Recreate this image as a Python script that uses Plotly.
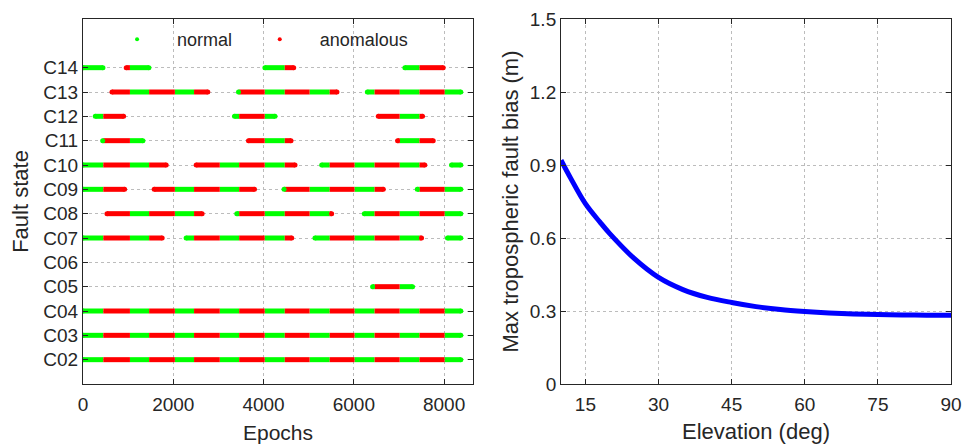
import plotly.graph_objects as go

# ---------------- data: left panel (fault state timeline) ----------------
satellites = ["C02", "C03", "C04", "C05", "C06", "C07", "C08",
              "C09", "C10", "C11", "C12", "C13", "C14"]
row_index = [2, 3, 4, 5, 6, 7, 8, 9, 10, 11, 12, 13, 14]

# visibility windows (start epoch, end epoch) per satellite
vis_C02 = [(0, 8370)]
vis_C03 = [(0, 8370)]
vis_C04 = [(0, 8370)]
vis_C05 = [(6416, 7301)]
vis_C06 = []
vis_C07 = [(0, 1754), (2285, 4624), (5139, 7500), (8075, 8370)]
vis_C08 = [(531, 2639), (3407, 5509), (6232, 8370)]
vis_C09 = [(0, 922), (1577, 3799), (4454, 6653), (7405, 8370)]
vis_C10 = [(0, 1843), (2507, 4697), (5288, 7573), (8164, 8370)]
vis_C11 = [(436, 1327), (3666, 4608), (6969, 7759)]
vis_C12 = [(272, 900), (3356, 4254), (6542, 7522)]
vis_C13 = [(642, 2765), (3445, 5626), (6299, 8370)]
vis_C14 = [(0, 442), (958, 1460), (4030, 4668), (7131, 7980)]

# anomalous periods (epochs)
anomaly_start = [450, 1465, 2460, 3460, 4470, 5465, 6460, 7455]
anomaly_end = [1040, 2035, 3030, 4025, 5020, 6015, 7015, 8010]

epoch_ticks = [0, 2000, 4000, 6000, 8000]

# ---------------- data: right panel ----------------
elevation = [10, 12, 15, 18, 20, 25, 30, 35, 40, 45, 50, 55, 60, 65, 70, 75, 80, 85, 90]
max_bias = [0.92, 0.845, 0.741, 0.665, 0.618, 0.516, 0.438, 0.388, 0.356, 0.335,
            0.318, 0.306, 0.298, 0.292, 0.288, 0.286, 0.284, 0.283, 0.283]
elev_ticks = [15, 30, 45, 60, 75, 90]
bias_ticks = [0, 0.3, 0.6, 0.9, 1.2, 1.5]

windows = [vis_C02, vis_C03, vis_C04, vis_C05, vis_C06, vis_C07, vis_C08,
           vis_C09, vis_C10, vis_C11, vis_C12, vis_C13, vis_C14]

GREEN = "#00FF00"
RED = "#FF0000"
TXT = "#262626"
FONT = "Liberation Sans, Arial, sans-serif"


def is_anom(t):
    return any(s <= t < e for s, e in zip(anomaly_start, anomaly_end))


def split_window(s, e):
    pts = sorted(set([s, e] + [b for b in anomaly_start + anomaly_end if s < b < e]))
    return [(a, b, is_anom((a + b) / 2)) for a, b in zip(pts[:-1], pts[1:])]


nx, ny, ax_, ay = [], [], [], []
cap_x, cap_y, cap_c = [], [], []
for row, wins in zip(row_index, windows):
    for s, e in wins:
        segs = split_window(s, e)
        for a, b, anom in segs:
            if anom:
                ax_ += [a, b, None]
                ay += [row, row, None]
            else:
                nx += [a, b, None]
                ny += [row, row, None]
        cap_x += [s, e]
        cap_y += [row, row]
        cap_c += [RED if segs[0][2] else GREEN, RED if segs[-1][2] else GREEN]

fig = go.Figure()
fig.add_trace(go.Scatter(x=nx, y=ny, mode="lines", line=dict(color=GREEN, width=5),
                         showlegend=False, hoverinfo="skip", xaxis="x", yaxis="y"))
fig.add_trace(go.Scatter(x=ax_, y=ay, mode="lines", line=dict(color=RED, width=5),
                         showlegend=False, hoverinfo="skip", xaxis="x", yaxis="y"))
fig.add_trace(go.Scatter(x=cap_x, y=cap_y, mode="markers",
                         marker=dict(color=cap_c, size=5, line=dict(width=0)),
                         showlegend=False, hoverinfo="skip", xaxis="x", yaxis="y"))
fig.add_trace(go.Scatter(x=[None], y=[None], mode="markers", name="normal",
                         marker=dict(color=GREEN, size=4), xaxis="x", yaxis="y",
                         legend="legend"))
fig.add_trace(go.Scatter(x=[None], y=[None], mode="markers", name="anomalous",
                         marker=dict(color=RED, size=4), xaxis="x", yaxis="y",
                         legend="legend2"))

fig.add_trace(go.Scatter(x=elevation, y=max_bias, mode="lines",
                         line=dict(color="#0000FF", width=5, shape="spline", smoothing=1.0),
                         showlegend=False, xaxis="x2", yaxis="y2"))

axis_common = dict(
    showline=True, linecolor=TXT, linewidth=1, mirror="ticks",
    ticks="inside", ticklen=5, tickcolor=TXT, tickwidth=1,
    showgrid=True, gridcolor="#bcbcbc", griddash="dot", gridwidth=1,
    zeroline=False, tickfont=dict(family=FONT, size=19, color=TXT),
    automargin=False,
)

legend_common = dict(orientation="h", xanchor="left", yanchor="middle",
                     bgcolor="rgba(0,0,0,0)", font=dict(family=FONT, size=18, color=TXT),
                     itemwidth=70)

fig.update_layout(
    width=973, height=444,
    margin=dict(l=83, r=22, t=19, b=60, autoexpand=False),
    paper_bgcolor="white", plot_bgcolor="white",
    font=dict(family=FONT, color=TXT),
    showlegend=True,
    legend=dict(legend_common, x=0.0162, y=0.944),
    legend2=dict(legend_common, x=0.1806, y=0.944),
    xaxis=dict(axis_common, domain=[0, 0.4493], range=[0, 8640], tickvals=epoch_ticks,
               ticklabelstandoff=3,
               title=dict(text="Epochs", font=dict(family=FONT, size=21, color=TXT), standoff=14),
               anchor="y"),
    yaxis=dict(axis_common, range=[1, 16], tickvals=row_index, ticktext=satellites,
               title=dict(text="Fault state", font=dict(family=FONT, size=22, color=TXT), standoff=8),
               anchor="x"),
    xaxis2=dict(axis_common, domain=[0.5507, 1], range=[10, 90], tickvals=elev_ticks,
                ticklabelstandoff=3,
                title=dict(text="Elevation (deg)", font=dict(family=FONT, size=22, color=TXT), standoff=12),
                anchor="y2"),
    yaxis2=dict(axis_common, range=[0, 1.5], tickvals=bias_ticks,
                ticktext=["0", "0.3", "0.6", "0.9", "1.2", "1.5"],
                title=dict(text="Max tropospheric fault bias (m)",
                           font=dict(family=FONT, size=22, color=TXT), standoff=5),
                anchor="x2"),
)

fig.write_html("out.html", config={"displayModeBar": False},
               post_script="document.body.style.margin='0';")
